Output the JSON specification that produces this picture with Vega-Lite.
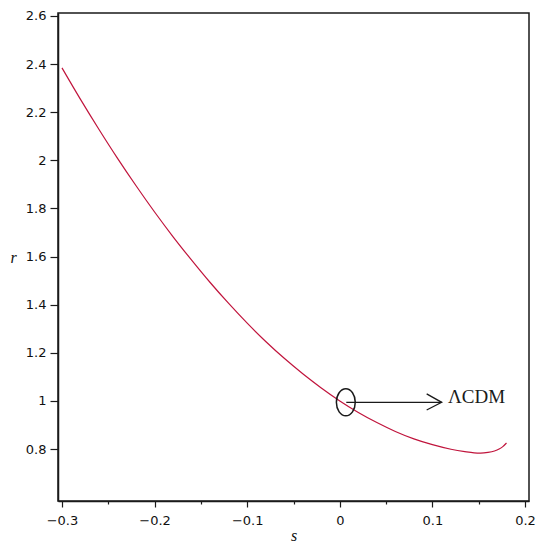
{
  "$schema": "https://vega.github.io/schema/vega-lite/v6.json",
  "autosize": "none",
  "width": 471,
  "height": 488,
  "padding": {"left": 58, "top": 13, "right": 7, "bottom": 42},
  "background": "white",
  "config": {
    "view": {"stroke": "#1a1a1a", "strokeWidth": 1.5},
    "axis": {
      "grid": false,
      "domainColor": "#1a1a1a",
      "domainWidth": 1.5,
      "tickColor": "#1a1a1a",
      "tickWidth": 1.2,
      "labelFont": "DejaVu Sans",
      "labelFontSize": 13,
      "labelColor": "#111",
      "titleFont": "Liberation Serif",
      "titleFontStyle": "italic",
      "titleFontWeight": "normal",
      "titleFontSize": 16,
      "titleColor": "#111"
    }
  },
  "datasets": {
    "curve": [
      {"s": -0.300, "r": 2.384},
      {"s": -0.280, "r": 2.253},
      {"s": -0.260, "r": 2.128},
      {"s": -0.240, "r": 2.008},
      {"s": -0.220, "r": 1.894},
      {"s": -0.200, "r": 1.785},
      {"s": -0.180, "r": 1.682},
      {"s": -0.160, "r": 1.585},
      {"s": -0.140, "r": 1.492},
      {"s": -0.120, "r": 1.405},
      {"s": -0.100, "r": 1.323},
      {"s": -0.080, "r": 1.247},
      {"s": -0.060, "r": 1.177},
      {"s": -0.040, "r": 1.113},
      {"s": -0.020, "r": 1.054},
      {"s": 0.000, "r": 1.000},
      {"s": 0.020, "r": 0.952},
      {"s": 0.040, "r": 0.910},
      {"s": 0.060, "r": 0.873},
      {"s": 0.080, "r": 0.842},
      {"s": 0.100, "r": 0.818},
      {"s": 0.120, "r": 0.799},
      {"s": 0.135, "r": 0.789},
      {"s": 0.145, "r": 0.784},
      {"s": 0.152, "r": 0.783},
      {"s": 0.160, "r": 0.786},
      {"s": 0.167, "r": 0.792},
      {"s": 0.172, "r": 0.800},
      {"s": 0.176, "r": 0.810},
      {"s": 0.180, "r": 0.825}
    ],
    "marker": [{"s": 0.0065, "r": 0.994}],
    "arrow": [{"s": 0.007, "s2": 0.110, "r": 0.994}],
    "head": [
      {"s": 0.0938, "r": 1.029, "k": 1},
      {"s": 0.1100, "r": 0.994, "k": 2},
      {"s": 0.0938, "r": 0.962, "k": 3}
    ],
    "label": [{"s": 0.1168, "r": 0.990, "text": "ΛCDM"}]
  },
  "encoding": {
    "x": {
      "field": "s",
      "type": "quantitative",
      "scale": {"domain": [-0.3043, 0.2043], "nice": false, "zero": false},
      "axis": {
        "title": "s",
        "values": [-0.3, -0.25, -0.2, -0.15, -0.1, -0.05, 0, 0.05, 0.1, 0.15, 0.2],
        "format": "~g",
        "labelExpr": "indexof([-0.25,-0.15,-0.05,0.05,0.15], datum.value) >= 0 ? '' : datum.label",
        "tickSize": {"condition": {"test": "indexof([-0.25,-0.15,-0.05,0.05,0.15], datum.value) >= 0", "value": 3}, "value": 6},
        "labelPadding": 7,
        "labelFlush": false,
        "labelOverlap": false,
        "titleX": 235.5,
        "titleY": 39,
        "titleBaseline": "alphabetic",
        "titleAlign": "center"
      }
    },
    "y": {
      "field": "r",
      "type": "quantitative",
      "scale": {"domain": [0.584, 2.612], "nice": false, "zero": false},
      "axis": {
        "title": "r",
        "titleAngle": 0,
        "titleX": -45,
        "titleY": 244,
        "titleAlign": "center",
        "titleBaseline": "middle",
        "values": [0.8, 1, 1.2, 1.4, 1.6, 1.8, 2, 2.2, 2.4, 2.6],
        "format": "~g",
        "tickSize": 8,
        "labelPadding": 4,
        "labelFlush": false,
        "labelOverlap": false
      }
    }
  },
  "layer": [
    {
      "data": {"name": "curve"},
      "mark": {"type": "line", "color": "#c0143c", "strokeWidth": 1.2, "interpolate": "monotone"}
    },
    {
      "data": {"name": "marker"},
      "mark": {
        "type": "point",
        "shape": "M -0.7 0 A 0.7 1 0 1 0 0.7 0 A 0.7 1 0 1 0 -0.7 0 Z",
        "size": 729,
        "filled": false,
        "stroke": "#1a1a1a",
        "strokeWidth": 1.5,
        "opacity": 1
      }
    },
    {
      "data": {"name": "arrow"},
      "mark": {"type": "rule", "color": "#1a1a1a", "strokeWidth": 1.3},
      "encoding": {"x2": {"field": "s2"}}
    },
    {
      "data": {"name": "head"},
      "mark": {"type": "line", "color": "#1a1a1a", "strokeWidth": 1.3},
      "encoding": {"order": {"field": "k", "type": "quantitative"}}
    },
    {
      "data": {"name": "label"},
      "mark": {"type": "text", "font": "Liberation Serif", "fontSize": 19, "align": "left", "baseline": "alphabetic", "color": "#1a1a1a"},
      "encoding": {"text": {"field": "text", "type": "nominal"}}
    }
  ]
}
